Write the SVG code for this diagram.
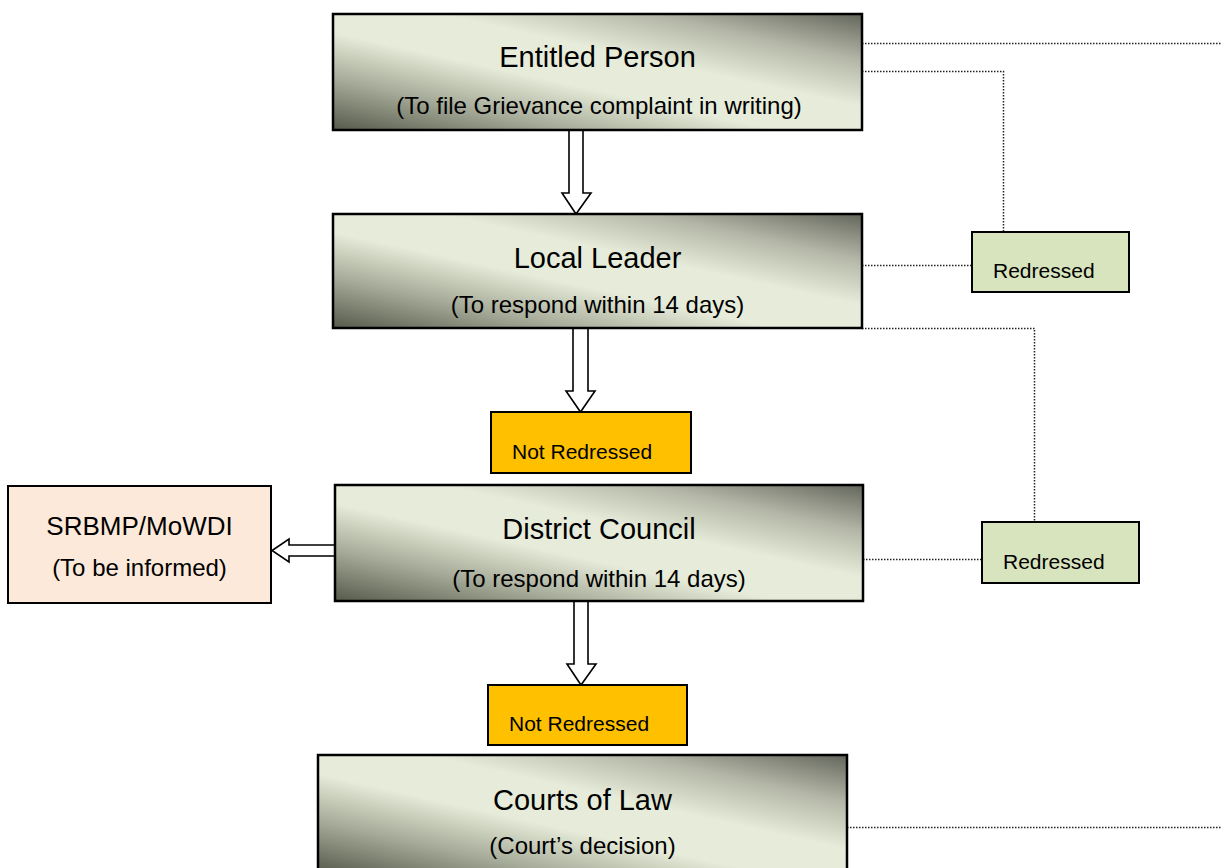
<svg xmlns="http://www.w3.org/2000/svg" width="1222" height="868" viewBox="0 0 1222 868">
<style>
.t{font-family:"Liberation Sans",Arial,sans-serif;fill:#000}
.title{font-size:29px}
.sub{font-size:24px}
.small{font-size:21px}
.gbox{fill:url(#g);stroke:#000;stroke-width:2.5}
.red{fill:#d7e4bd;stroke:#000;stroke-width:2}
.nred{fill:#ffc000;stroke:#000;stroke-width:2}
.info{fill:#fde9d9;stroke:#000;stroke-width:2}
.barrow{fill:#fff;stroke:#000;stroke-width:1.6;stroke-linejoin:miter}
.dot{fill:none;stroke:#222;stroke-width:1.5;stroke-dasharray:1.5 1.5}
</style>
<defs>
<linearGradient id="g" x1="0" y1="1" x2="1" y2="0">
<stop offset="0" stop-color="#555a4b"/>
<stop offset="0.22" stop-color="#a6aa98"/>
<stop offset="0.42" stop-color="#e6ecd9"/>
<stop offset="0.6" stop-color="#e6ecd9"/>
<stop offset="0.8" stop-color="#b3b6a6"/>
<stop offset="1" stop-color="#62655a"/>
</linearGradient>
</defs>
<rect width="1222" height="868" fill="#fff"/>
<g id="connectors">
<path class="dot" d="M862 43.5H1222"/>
<path class="dot" d="M862 71.5H1003.5V232"/>
<path class="dot" d="M862 265.5H972"/>
<path class="dot" d="M862 328.5H1034.5V522"/>
<path class="dot" d="M863 559.5H982"/>
<path class="dot" d="M847 827.5H1222"/>
<polygon class="barrow" points="569,130 583,130 583,193 591,193 576,214 562,193 569,193"/>
<polygon class="barrow" points="573,328 588,328 588,391 595,391 580.5,412 566,391 573,391"/>
<polygon class="barrow" points="574,601 588,601 588,664 596,664 581,685 567,664 574,664"/>
<polygon class="barrow" points="335,545 289,545 289,539 272,550.5 289,562 289,556 335,556"/>
</g>
<g id="entitled-person">
<rect class="gbox" x="333" y="14" width="529" height="116"/>
<text class="t title" x="597.5" y="67" text-anchor="middle">Entitled Person</text>
<text class="t sub" x="599" y="114" text-anchor="middle">(To file Grievance complaint in writing)</text>
</g>
<g id="local-leader">
<rect class="gbox" x="333" y="214" width="529" height="114"/>
<text class="t title" x="597.5" y="268" text-anchor="middle">Local Leader</text>
<text class="t sub" x="597.5" y="313" text-anchor="middle">(To respond within 14 days)</text>
</g>
<g id="redressed-1">
<rect class="red" x="972" y="232" width="157" height="60"/>
<text class="t small" x="993" y="278">Redressed</text>
</g>
<g id="not-redressed-1">
<rect class="nred" x="491" y="412" width="200" height="61"/>
<text class="t small" x="512" y="459">Not Redressed</text>
</g>
<g id="srbmp">
<rect class="info" x="8" y="486" width="263" height="117"/>
<text class="t" style="font-size:26px" x="139.5" y="535" text-anchor="middle">SRBMP/MoWDI</text>
<text class="t sub" x="139.5" y="576" text-anchor="middle">(To be informed)</text>
</g>
<g id="district-council">
<rect class="gbox" x="335" y="485" width="528" height="116"/>
<text class="t title" x="599" y="539" text-anchor="middle">District Council</text>
<text class="t sub" x="599" y="587" text-anchor="middle">(To respond within 14 days)</text>
</g>
<g id="redressed-2">
<rect class="red" x="982" y="522" width="157" height="61"/>
<text class="t small" x="1003" y="569">Redressed</text>
</g>
<g id="not-redressed-2">
<rect class="nred" x="488" y="685" width="199" height="60"/>
<text class="t small" x="509" y="731">Not Redressed</text>
</g>
<g id="courts-of-law">
<rect class="gbox" x="318" y="755" width="529" height="118"/>
<text class="t title" x="582.5" y="810" text-anchor="middle">Courts of Law</text>
<text class="t sub" x="582.5" y="854" text-anchor="middle">(Court’s decision)</text>
</g>
</svg>
